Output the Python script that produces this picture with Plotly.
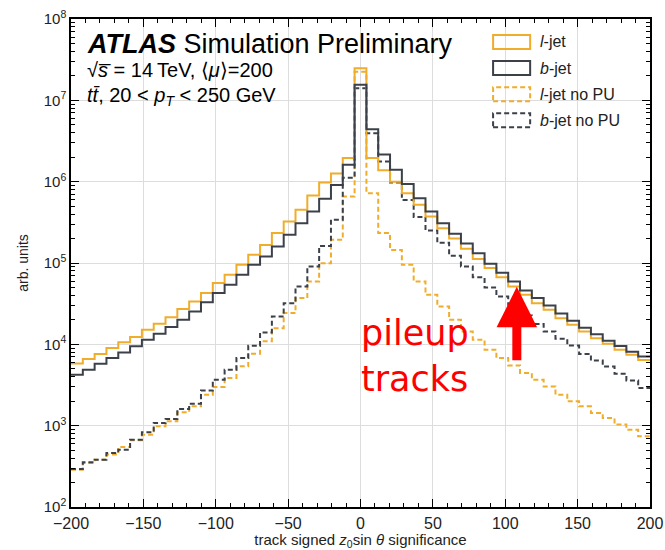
import numpy as np
import plotly.graph_objects as go

# ---------------- data ----------------
X_MIN, X_MAX, N_BINS = -200, 200, 49

l_jet = [5.8e3, 6.6e3, 7.6e3, 9.0e3, 1.06e4, 1.23e4, 1.51e4, 1.79e4, 2.16e4, 2.71e4,
         3.37e4, 4.27e4, 5.66e4, 7.16e4, 9.51e4, 1.26e5, 1.67e5, 2.33e5, 3.24e5, 4.51e5,
         6.76e5, 9.77e5, 1.26e6, 1.95e6, 2.48e7, 1.95e6, 1.38e6, 1.0e6, 7.21e5, 5.19e5,
         3.73e5, 2.68e5, 2.0e5, 1.5e5, 1.12e5, 8.65e4, 6.68e4, 5.15e4, 4.06e4, 3.21e4,
         2.66e4, 2.10e4, 1.74e4, 1.44e4, 1.19e4, 1.02e4, 8.6e3, 7.45e3, 6.4e3]

b_jet = [4.24e3, 4.88e3, 5.78e3, 6.78e3, 7.96e3, 9.44e3, 1.14e4, 1.35e4, 1.63e4, 2.0e4,
         2.54e4, 3.29e4, 4.27e4, 5.4e4, 7.16e4, 9.51e4, 1.2e5, 1.6e5, 2.22e5, 3.09e5,
         4.3e5, 6.17e5, 9.12e5, 1.61e6, 1.55e7, 4.42e6, 2.16e6, 1.4e6, 9.33e5, 6.27e5,
         4.3e5, 3.09e5, 2.29e5, 1.74e5, 1.32e5, 9.77e4, 7.59e4, 5.93e4, 4.6e4, 3.7e4,
         3.01e4, 2.4e4, 1.95e4, 1.6e4, 1.33e4, 1.11e4, 9.53e3, 8.11e3, 7.08e3]

l_jet_nopu = [288, 348, 382, 441, 547, 661, 774, 982, 1130, 1459,
              1730, 2400, 2985, 3855, 5358, 7674, 1.09e4, 1.58e4, 2.42e4, 3.71e4,
              5.93e4, 9.95e4, 1.93e5, 6.56e5, 2.24e7, 7.21e5, 2.33e5, 1.45e5, 9.51e4, 5.93e4,
              4.06e4, 2.92e4, 2.0e4, 1.44e4, 1.14e4, 8.59e3, 6.78e3, 5.5e3, 4.44e3, 3.67e3,
              3.04e3, 2.4e3, 1.99e3, 1.73e3, 1.43e3, 1.24e3, 1.03e3, 893, 740]

b_jet_nopu = [294, 354, 382, 461, 507, 673, 828, 1079, 1208, 1603,
              1862, 2704, 3673, 4875, 6776, 9616, 1.4e4, 2.2e4, 3.21e4, 5.15e4,
              9.06e4, 1.62e5, 3.4e5, 1.12e6, 1.41e7, 3.94e6, 1.77e6, 9.77e5, 5.97e5, 3.67e5,
              2.51e5, 1.77e5, 1.23e5, 9.06e4, 6.68e4, 5.01e4, 3.88e4, 3.06e4, 2.26e4, 1.78e4,
              1.44e4, 1.17e4, 9.66e3, 7.62e3, 6.31e3, 5.35e3, 4.34e3, 3.59e3, 2.9e3]

x_ticks = [-200, -150, -100, -50, 0, 50, 100, 150, 200]
y_tick_exps = [2, 3, 4, 5, 6, 7, 8]

# ---------------- styling ----------------
YELLOW = "#F0AD2C"
DARK = "#3B4049"
FONT = "Liberation Sans"
DASH = "5px,3px"

edges = np.linspace(X_MIN, X_MAX, N_BINS + 1)

def step(vals):
    return list(edges), list(vals) + [vals[-1]]

fig = go.Figure()

series = [
    (l_jet, YELLOW, "solid", "<i>l</i>-jet"),
    (b_jet, DARK, "solid", "<i>b</i>-jet"),
    (l_jet_nopu, YELLOW, DASH, "<i>l</i>-jet no PU"),
    (b_jet_nopu, DARK, DASH, "<i>b</i>-jet no PU"),
]

# draw order: dashed underneath
for vals, col, dash, name in [series[2], series[3], series[0], series[1]]:
    xs, ys = step(vals)
    fig.add_trace(go.Scatter(x=xs, y=ys, mode="lines", line_shape="hv", name=name,
                             line=dict(color=col, width=2, dash=dash),
                             showlegend=False, hoverinfo="skip"))

# legend drawn as outlined boxes + labels (like the reference)
LEG_X0, LEG_X1, LEG_TX = 0.729, 0.793, 0.808
LEG_Y0, LEG_DY, LEG_HH = 0.953, 0.0535, 0.0143
for i, (vals, col, dash, name) in enumerate(series):
    yc = LEG_Y0 - i * LEG_DY
    fig.add_shape(type="rect", xref="paper", yref="paper",
                  x0=LEG_X0, x1=LEG_X1, y0=yc - LEG_HH, y1=yc + LEG_HH,
                  line=dict(color=col, width=2, dash=dash), fillcolor="rgba(0,0,0,0)")
    fig.add_annotation(xref="paper", yref="paper", x=LEG_TX, y=yc, xanchor="left",
                       yanchor="middle", text=name, showarrow=False, borderpad=0,
                       font=dict(size=16, family=FONT, color="#222222"))

fig.update_layout(
    width=665, height=550,
    margin=dict(l=71, r=15, t=19, b=43),
    paper_bgcolor="white", plot_bgcolor="white",
    font=dict(family=FONT, color="#222222", size=14),
    showlegend=False,
)

fig.update_xaxes(
    range=[X_MIN, X_MAX], tickvals=x_ticks, automargin=False,
    ticktext=[("\u2212" + str(-v)) if v < 0 else str(v) for v in x_ticks],
    ticks="inside", ticklen=8, tickcolor="black", mirror="allticks",
    showline=True, linecolor="black", linewidth=1.5,
    showgrid=True, gridcolor="#DDDDDD", gridwidth=1, zeroline=False,
    tickfont=dict(size=16, family=FONT), ticklabelstandoff=1,
    minor=dict(ticks="inside", ticklen=4, dtick=10, tickcolor="black", showgrid=False),
    title=dict(text="track signed <i>z</i><sub>0</sub>sin <i>\u03b8</i> significance",
               font=dict(size=15, family=FONT), standoff=8),
)

y_minor = [m * 10 ** e for e in y_tick_exps[:-1] for m in range(2, 10)]
fig.update_yaxes(
    type="log", range=[2, 8], automargin=False,
    tickvals=[10 ** e for e in y_tick_exps],
    ticktext=["10<sup>%d</sup>" % e for e in y_tick_exps],
    ticks="inside", ticklen=8, tickcolor="black", mirror="allticks",
    showline=True, linecolor="black", linewidth=1.5,
    showgrid=True, gridcolor="#DDDDDD", gridwidth=1, zeroline=False,
    tickfont=dict(size=15, family=FONT),
    minor=dict(ticks="inside", ticklen=4, tickmode="array", tickvals=y_minor,
               tickcolor="black", showgrid=False),
    title=dict(text="arb. units", font=dict(size=14, family=FONT), standoff=12),
)

# text annotations
fig.add_annotation(xref="paper", yref="paper", x=0.026, y=0.949, xanchor="left", yanchor="middle",
                   text="<b><i>ATLAS</i></b> Simulation Preliminary", showarrow=False, borderpad=0,
                   font=dict(size=27, family=FONT, color="black"))
fig.add_annotation(xref="paper", yref="paper", x=0.026, y=0.895, xanchor="left", yanchor="middle",
                   text="\u221a<i>s\u0305</i> = 14\u2009TeV, \u27e8<i>\u03bc</i>\u27e9=200", showarrow=False,
                   borderpad=0, font=dict(size=20, family=FONT, color="black"))
fig.add_annotation(xref="paper", yref="paper", x=0.026, y=0.842, xanchor="left", yanchor="middle",
                   text="<i>tt\u0304</i>, 20 &lt; <i>p<sub>T</sub></i> &lt; 250 GeV", showarrow=False,
                   borderpad=0, font=dict(size=20, family=FONT, color="black"))

# pileup annotation
fig.add_annotation(xref="paper", yref="paper", x=0.497, y=0.31, xanchor="left", yanchor="middle",
                   text="pileup<br>tracks", showarrow=False, align="left",
                   font=dict(size=35, family="DejaVu Sans", color="#FF0000"))
fig.add_annotation(x=108, y=np.log10(5.1e4), xref="x", yref="y", text="",
                   showarrow=True, arrowhead=2, arrowsize=0.9, arrowwidth=9,
                   arrowcolor="#FF0000", ax=0, ay=75, standoff=0)

fig.write_html("out.html")
